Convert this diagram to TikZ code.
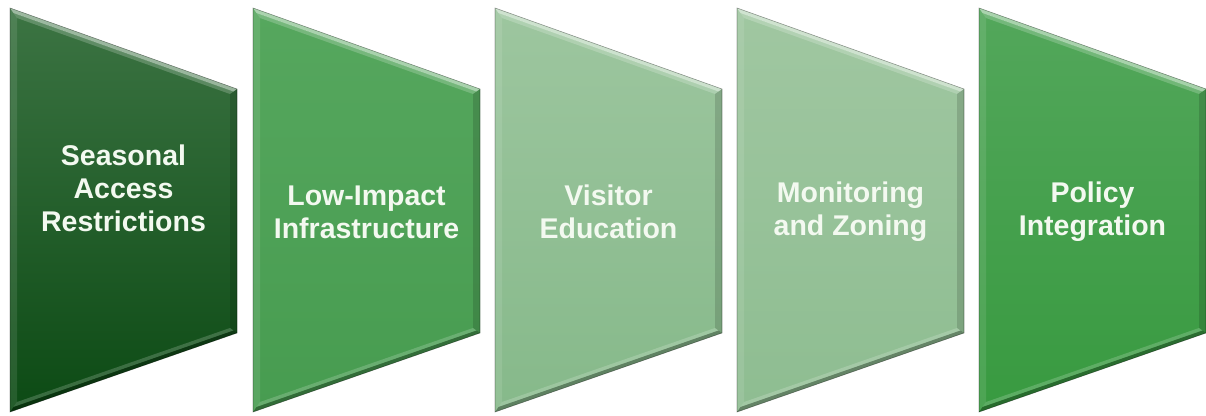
\documentclass[tikz,border=0pt]{standalone}
\usepackage{fontspec}
\setmainfont{Liberation Sans}

\definecolor{labelwhite}{HTML}{F3F9F0}
\definecolor{darkA}{HTML}{3C7443}\definecolor{darkB}{HTML}{0C4A14}
\definecolor{midA}{HTML}{56A75E}\definecolor{midB}{HTML}{479C50}
\definecolor{paleA}{HTML}{9DC69F}\definecolor{paleB}{HTML}{86B98A}
\definecolor{softA}{HTML}{A0C7A1}\definecolor{softB}{HTML}{8EBD91}
\definecolor{brightA}{HTML}{53A75B}\definecolor{brightB}{HTML}{389A40}

% one bevelled panel: name, left x, top colour, bottom colour, text, text y
\newcommand\bevelpanel[6]{%
  \begin{scope}[shift={(#2,0)}]
    \shade[top color=#3, bottom color=#4]
      (0,8) -- (227,89) -- (227,333) -- (0,412) -- cycle;
    % top bevel: bright rim
    \fill[white, opacity=.50] (0,8) -- (227,89) -- (223.5,91.5) -- (3.5,13) -- cycle;
    \fill[white, opacity=.20] (3.5,13) -- (223.5,91.5) -- (220,94) -- (7,18) -- cycle;
    % side bevels
    \fill[white, opacity=.10] (0,8) -- (7,18) -- (7,402) -- (0,412) -- cycle;
    \fill[black, opacity=.14] (227,89) -- (227,333) -- (220,328) -- (220,94) -- cycle;
    % bottom bevel: soft highlight above a dark edge
    \fill[white, opacity=.18] (7,402) -- (220,328) -- (223.5,330.5) -- (3.5,407) -- cycle;
    \fill[black, opacity=.30] (3.5,407) -- (223.5,330.5) -- (227,333) -- (0,412) -- cycle;
    \draw[black, opacity=.35, line width=.6pt]
      (0,8) -- (227,89) -- (227,333) -- (0,412) -- cycle;
    \node[panellabel] (#1) at (113.5,#6) {#5};
  \end{scope}}

\begin{document}
\begin{tikzpicture}[x=1pt, y=-1pt,
  panellabel/.style={font=\bfseries\fontsize{28.5}{33}\selectfont,
    text=labelwhite, align=center, inner sep=0pt}]
  \useasboundingbox (0,0) rectangle (1206,415);
  \bevelpanel{seasonal}{10}{darkA}{darkB}{Seasonal\\Access\\Restrictions}{188}
  \bevelpanel{lowimpact}{253}{midA}{midB}{Low-Impact\\Infrastructure}{212}
  \bevelpanel{education}{495}{paleA}{paleB}{Visitor\\Education}{212}
  \bevelpanel{monitoring}{737}{softA}{softB}{Monitoring\\and Zoning}{212}
  \bevelpanel{policy}{979}{brightA}{brightB}{Policy\\Integration}{212}
\end{tikzpicture}
\end{document}
